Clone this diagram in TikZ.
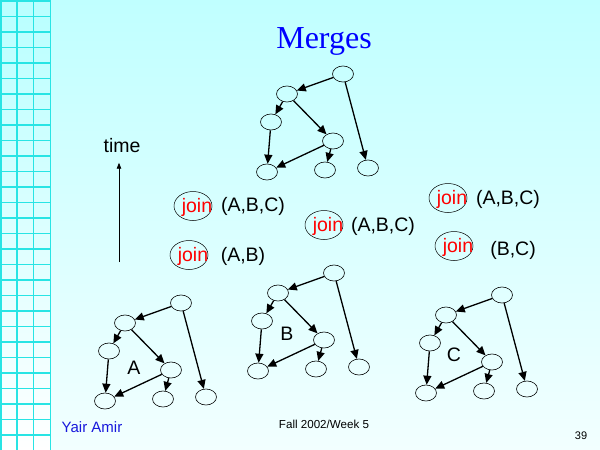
\documentclass[tikz,border=0pt]{standalone}
\usepackage{fontspec}
\setmainfont{Liberation Sans}
\newfontfamily\titlefont{Liberation Serif}
\usetikzlibrary{shapes.geometric,arrows.meta}
\definecolor{gridcyan}{RGB}{40,228,228}
\definecolor{slidetop}{RGB}{192,255,255}
\definecolor{slidebot}{RGB}{242,255,255}
\definecolor{gridtop}{RGB}{184,255,255}
\definecolor{authorblue}{RGB}{24,24,220}
\tikzset{
  evt/.style={draw, ellipse, line width=0.6pt, minimum width=21pt, minimum height=16pt, inner sep=0pt},
  link/.style={line width=1.3pt, -{Triangle[length=9pt,width=8pt]}},
  joinmark/.style={draw, ellipse, line width=0.5pt, minimum width=38pt, minimum height=29pt, inner sep=0pt,
    label={[text=red, font=\fontsize{19.5}{21}\selectfont, xshift=4pt, yshift=-1pt]center:join}},
  member/.style={font=\fontsize{19.5}{21}\selectfont},
}
\begin{document}
\begin{tikzpicture}[x=1pt, y=-1pt]
    \useasboundingbox (0,0) rectangle (600,450);
    % slide background and grid
    \shade[top color=slidetop, bottom color=slidebot] (0,0) rectangle (600,450);
    \shade[top color=gridtop, bottom color=white] (0,0) rectangle (50.5,450);
    \foreach \gy in {0,...,28}
        \draw[gridcyan, line width=1.5pt] (0,1+15.5*\gy) -- (50.5,1+15.5*\gy);
    \foreach \gx in {1,17,33.5,50.5}
        \draw[gridcyan, line width=1.5pt] (\gx,0) -- (\gx,450);
    % title
    \node[font=\titlefont\fontsize{32}{34}\selectfont, text=blue, anchor=base] (title) at (324,48) {Merges};
    % the four trees
    \foreach \tr/\rx/\ry in {t/343/74, a/181/303, b/334/273, c/502/295} {
        \begin{scope}[shift={(\rx,\ry)}]
            \node[evt] (\tr r) at (0,0) {};
            \node[evt] (\tr n1) at (-56,20) {};
            \node[evt] (\tr n2) at (-72,48) {};
            \node[evt] (\tr n3) at (-10,67) {};
            \node[evt] (\tr l1) at (-76,98) {};
            \node[evt] (\tr l2) at (-18,96) {};
            \node[evt] (\tr l3) at (25,94) {};
        \end{scope}
        \draw[link] (\tr r) -- (\tr n1);
        \draw[link] (\tr r) -- (\tr l3);
        \draw[link] (\tr n1) -- (\tr n2);
        \draw[link] (\tr n1) -- (\tr n3);
        \draw[link] (\tr n2) -- (\tr l1);
        \draw[link] (\tr n3) -- (\tr l1);
        \draw[link] (\tr n3) -- (\tr l2);
    }
    \node[member] (labA) at (134,368) {A};
    \node[member] (labB) at (287,334) {B};
    \node[member] (labC) at (454,355) {C};
    % time axis
    \node[member] (time) at (122,146) {time};
    \coordinate (tbase) at (119,262);
    \draw[line width=0.8pt, -{Triangle[length=6pt,width=4.5pt]}, shorten >=6pt] (tbase) -- (tbase |- time.south);
    % joins
    \node[joinmark] (j1) at (193,206) {};
    \node[member] (s1) at (253,206) {(A,B,C)};
    \node[joinmark] (j2) at (189,255) {};
    \node[member] (s2) at (243,256) {(A,B)};
    \node[joinmark] (j3) at (324,225) {};
    \node[member] (s3) at (383,226) {(A,B,C)};
    \node[joinmark] (j4) at (448,198) {};
    \node[member] (s4) at (508,199) {(A,B,C)};
    \node[joinmark] (j5) at (454,246) {};
    \node[member] (s5) at (513,250) {(B,C)};
    % footer
    \node[font=\fontsize{15}{16}\selectfont, text=authorblue, anchor=base] (author) at (92,432) {Yair Amir};
    \node[font=\fontsize{11.6}{13}\selectfont, anchor=base] (course) at (324,428) {Fall 2002/Week 5};
    \node[font=\fontsize{11}{12}\selectfont, anchor=base] (page) at (581,439) {39};
\end{tikzpicture}
\end{document}
